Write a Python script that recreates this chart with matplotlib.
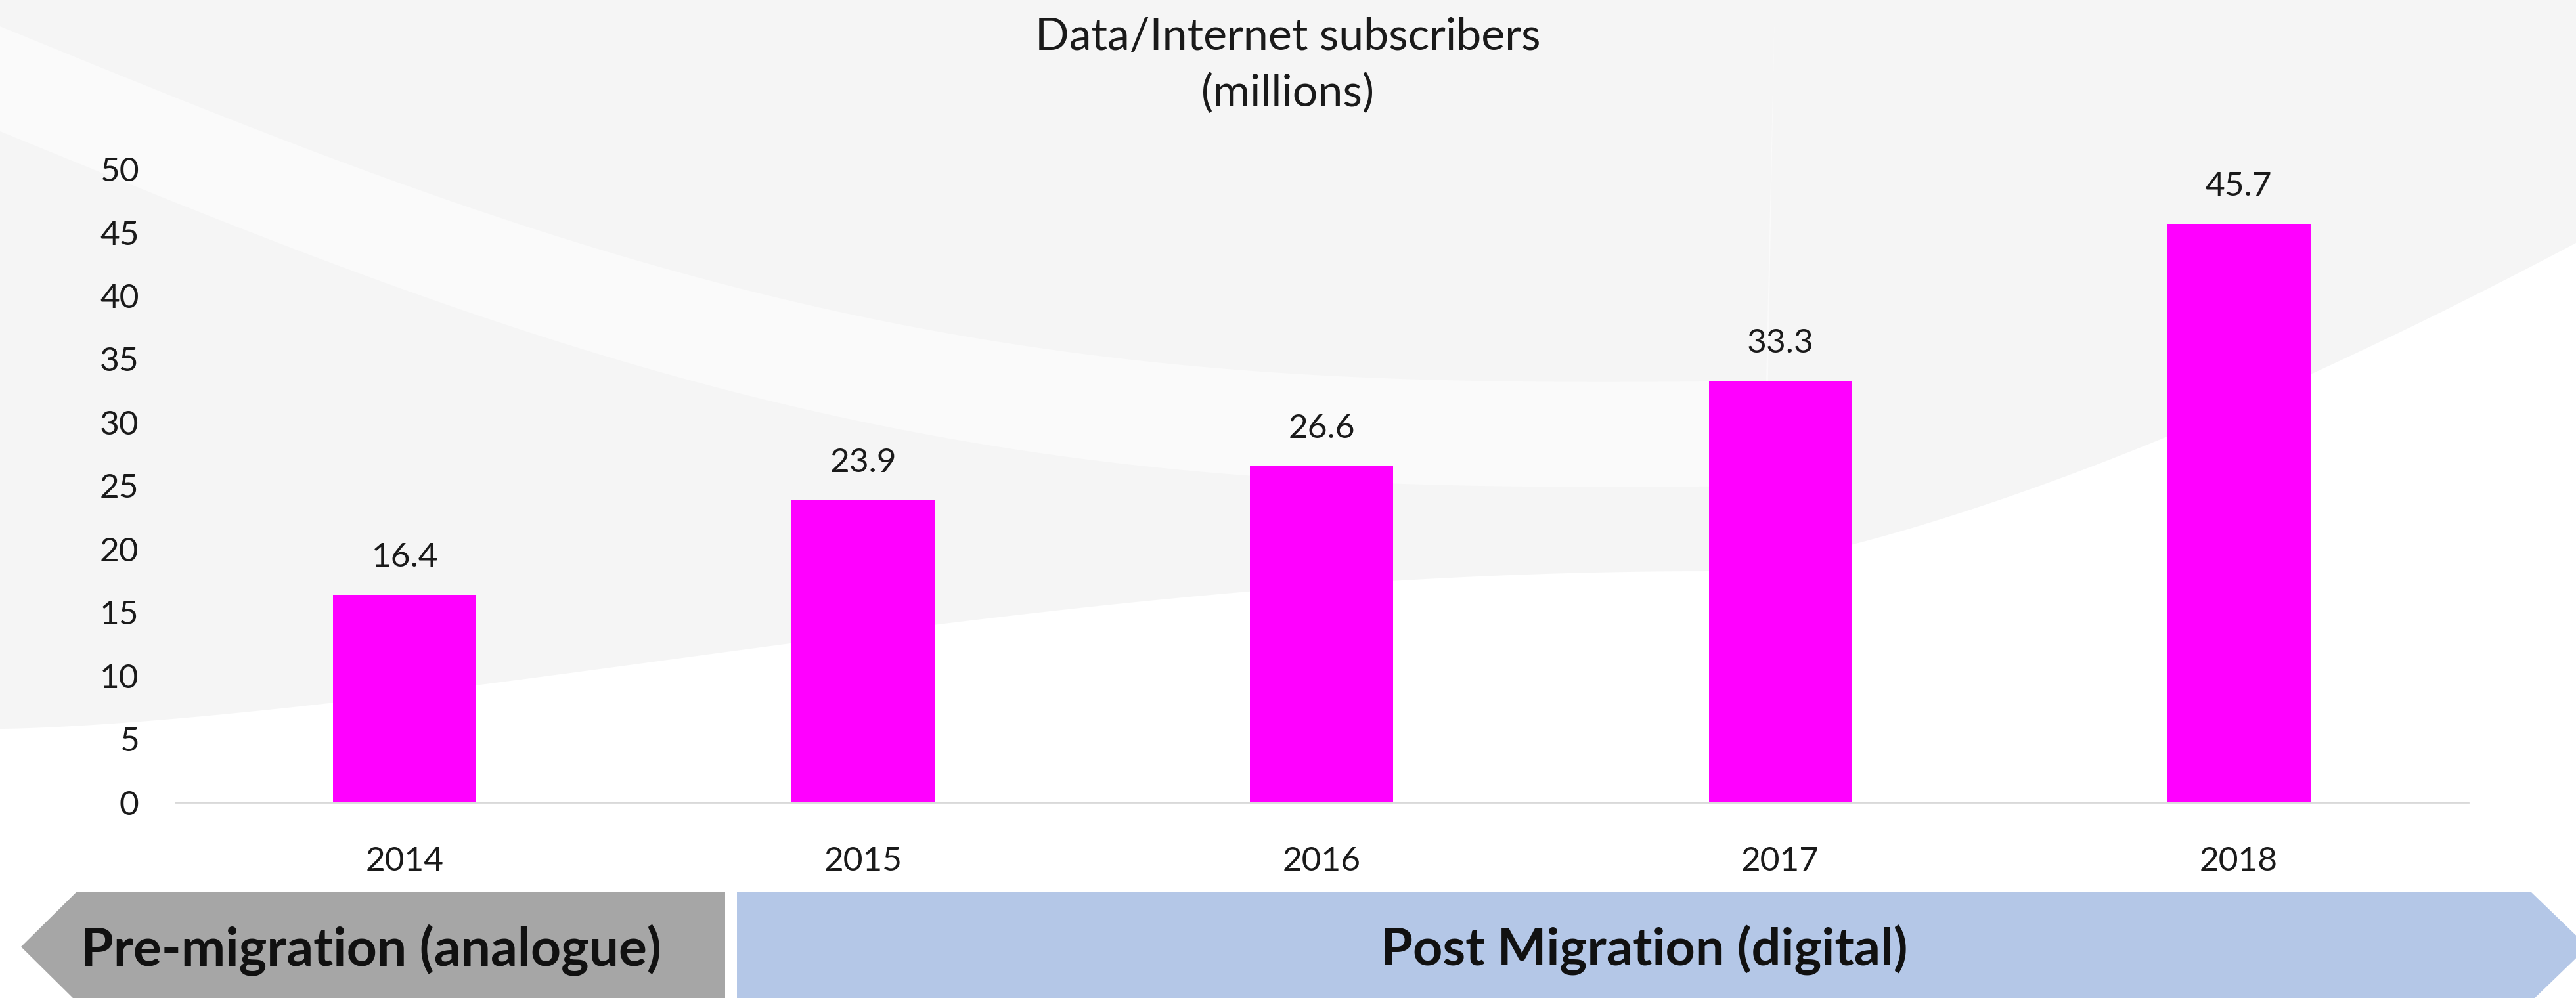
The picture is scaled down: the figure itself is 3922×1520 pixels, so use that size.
import numpy as np
import matplotlib
matplotlib.use('Agg')
import matplotlib.pyplot as plt
from matplotlib.patches import Polygon

years = ['2014', '2015', '2016', '2017', '2018']
subscribers = [16.4, 23.9, 26.6, 33.3, 45.7]
yticks = [0, 5, 10, 15, 20, 25, 30, 35, 40, 45, 50]
title_text = 'Data/Internet subscribers\n(millions)'
phase_labels = ['Pre-migration (analogue)', 'Post Migration (digital)']

W, H = 3922, 1520
fig = plt.figure(figsize=(W / 100, H / 100), dpi=100, facecolor='white')

# faint swoosh background, drawn in pixel coordinates
bg = fig.add_axes([0, 0, 1, 1], zorder=0)
bg.set_xlim(0, W)
bg.set_ylim(H, 0)
bg.axis('off')
xs = np.linspace(0, W, 300)
lower = 1110 - 240 * np.sin(np.clip(xs / 2600, 0, 1) * np.pi / 2) ** 1.5
lower = np.where(xs > 2600, 870 - 500 * ((xs - 2600) / 1322) ** 1.4, lower)
bg.fill_between(xs, 0, lower, color='#f5f5f5', lw=0)
# lighter swoosh band through the upper left
band_top = np.where(xs < 2700, 40 + 0.2 * xs + 180 * np.sin(xs / 2700 * np.pi), 0)
band_bot = band_top + 160 * (xs < 2700)
bg.fill_between(xs, band_top, band_bot, color='#fafafa', lw=0)

ax = fig.add_axes([0.0681, 0.196, 0.890, 0.6345], zorder=2)
ax.patch.set_alpha(0)
x = np.arange(len(years))
bars = ax.bar(x, subscribers, width=0.312, color='#ff00ff', zorder=3)
ax.set_xlim(-0.5, len(years) - 0.5)
ax.set_ylim(0, 50)
ax.set_yticks(yticks)
ax.set_xticks(x)
ax.set_xticklabels(years)
for s in ['top', 'right', 'left']:
    ax.spines[s].set_visible(False)
ax.spines['bottom'].set_color('#d9d9d9')
ax.spines['bottom'].set_linewidth(2)
ax.tick_params(axis='both', length=0, labelsize=37, colors='#1a1a1a')
ax.tick_params(axis='y', pad=40)
ax.tick_params(axis='x', pad=48)
for lab in ax.get_xticklabels() + ax.get_yticklabels():
    lab.set_family('Lato')

for b, v in zip(bars, subscribers):
    ax.annotate('%.1f' % v, (b.get_x() + b.get_width() / 2, v),
                xytext=(0, 24), textcoords='offset points',
                ha='center', va='bottom', fontsize=37, family='Lato', color='#1a1a1a')

fig.text(0.5, 1 - 100 / H, title_text, ha='center', va='center',
         fontsize=49, family='Lato', color='#1a1a1a', linespacing=1.45)

# phase arrows along the bottom
def fp(pts):
    return [(px / W, 1 - py / H) for px, py in pts]

gray = Polygon(fp([(1104, 1358), (117, 1358), (32, 1442), (117, 1526), (1104, 1526)]),
               closed=True, transform=fig.transFigure, color='#a6a6a6', lw=0, zorder=1)
blue = Polygon(fp([(1122, 1358), (3853, 1358), (3940, 1442), (3853, 1526), (1122, 1526)]),
               closed=True, transform=fig.transFigure, color='#b4c7e7', lw=0, zorder=1)
fig.patches.extend([gray, blue])
fig.text(565 / W, 1 - 1447 / H, phase_labels[0], ha='center', va='center',
         fontsize=58, fontweight='bold', family='Lato', color='#111111')
fig.text(2503 / W, 1 - 1447 / H, phase_labels[1], ha='center', va='center',
         fontsize=57, fontweight='bold', family='Lato', color='#111111')

fig.savefig('out.png', dpi=100, facecolor='white')
